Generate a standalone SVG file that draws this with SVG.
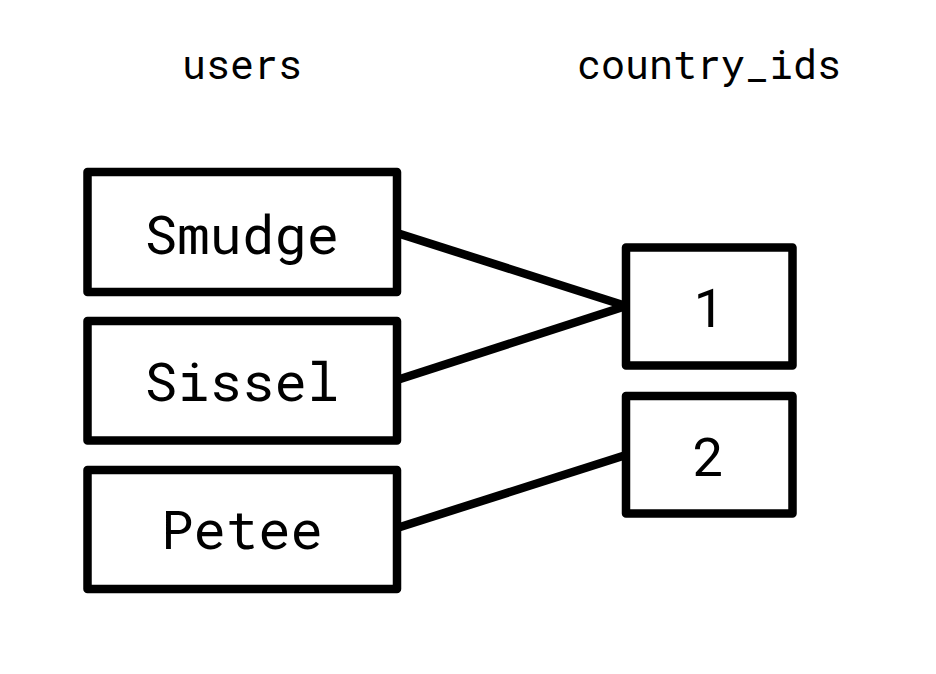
<svg xmlns="http://www.w3.org/2000/svg" width="936" height="674" viewBox="0 0 936 674">
<style>
.box{fill:#fff;stroke:#000;stroke-width:8.5;stroke-linejoin:round}
.lbl{font-family:"Roboto Mono","DejaVu Sans Mono","Liberation Mono",monospace;font-size:54px;text-anchor:middle;fill:#000}
.hdr{font-family:"Roboto Mono","DejaVu Sans Mono","Liberation Mono",monospace;font-size:40px;text-anchor:middle;fill:#000}
.edge{stroke:#000;stroke-width:8.5;fill:none}
</style>
<rect width="936" height="674" fill="#fff"/>
<text class="hdr" x="242" y="79">users</text>
<text class="hdr" x="709" y="79">country_ids</text>
<g id="connectors">
<line class="edge" x1="397" y1="233" x2="626" y2="306"/>
<line class="edge" x1="397" y1="380" x2="626" y2="306"/>
<line class="edge" x1="397" y1="528" x2="626" y2="455"/>
</g>
<g id="smudge"><rect class="box" x="87.5" y="172" width="309.5" height="120"/><text class="lbl" x="242" y="254">Smudge</text></g>
<g id="sissel"><rect class="box" x="87.5" y="321" width="309.5" height="119.5"/><text class="lbl" x="242" y="401">Sissel</text></g>
<g id="petee"><rect class="box" x="87.5" y="470" width="309.5" height="119"/><text class="lbl" x="242" y="549">Petee</text></g>
<g id="c1"><rect class="box" x="626" y="247.5" width="166.5" height="118"/><text class="lbl" x="709" y="327">1</text></g>
<g id="c2"><rect class="box" x="626" y="396" width="166.5" height="117.5"/><text class="lbl" x="709" y="476">2</text></g>
</svg>
